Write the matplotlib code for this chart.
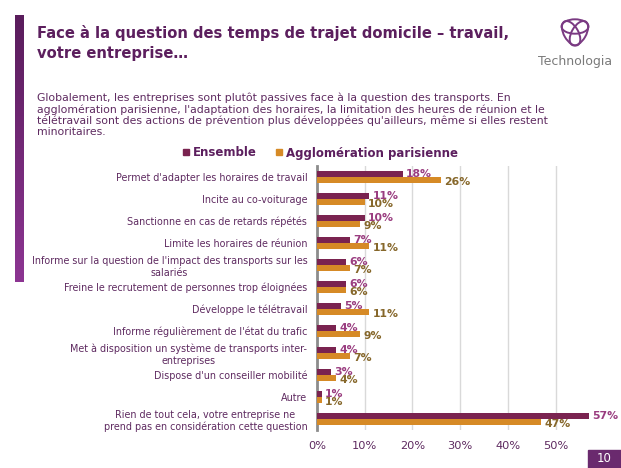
import numpy as np
import matplotlib.pyplot as plt
from matplotlib.patches import Rectangle, Ellipse
from matplotlib.lines import Line2D
from matplotlib.colors import LinearSegmentedColormap

# Data
categories = [
    "Permet d'adapter les horaires de travail",
    "Incite au co-voiturage",
    "Sanctionne en cas de retards répétés",
    "Limite les horaires de réunion",
    "Informe sur la question de l'impact des transports sur les\nsalariés",
    "Freine le recrutement de personnes trop éloignées",
    "Développe le télétravail",
    "Informe régulièrement de l'état du trafic",
    "Met à disposition un système de transports inter-\nentreprises",
    "Dispose d'un conseiller mobilité",
    "Autre",
    "Rien de tout cela, votre entreprise ne\nprend pas en considération cette question",
]
ensemble = [18, 11, 10, 7, 6, 6, 5, 4, 4, 3, 1, 57]
agglo = [26, 10, 9, 11, 7, 6, 11, 9, 7, 4, 1, 47]
xticks = [0, 10, 20, 30, 40, 50]

c_ens = '#7a2350'
c_agg = '#d68a26'
c_ens_txt = '#9a3d80'
c_agg_txt = '#86672a'
c_purple = '#5c1f5e'
c_text = '#5e2a60'

W, H = 621, 468
fig = plt.figure(figsize=(W / 100, H / 100), dpi=100)
fig.patch.set_facecolor('white')

# Left gradient band
band = fig.add_axes([15 / W, 1 - 282 / H, 9 / W, (282 - 15) / H])
grad = np.linspace(0, 1, 100).reshape(-1, 1)
cmap = LinearSegmentedColormap.from_list('b', ['#5a1d5c', '#8c3592'])
band.imshow(grad, aspect='auto', cmap=cmap)
band.axis('off')

# Title
fig.text(37 / W, 1 - 43 / H, "Face à la question des temps de trajet domicile – travail,\nvotre entreprise…",
         fontsize=10.6, fontweight='bold', color=c_purple, va='center', ha='left', linespacing=1.35)

# Body text
body = ("Globalement, les entreprises sont plutôt passives face à la question des transports. En\n"
        "agglomération parisienne, l'adaptation des horaires, la limitation des heures de réunion et le\n"
        "télétravail sont des actions de prévention plus développées qu'ailleurs, même si elles restent\n"
        "minoritaires.")
fig.text(37 / W, 1 - 115 / H, body, fontsize=7.8, color=c_text, va='center', ha='left', linespacing=1.12)

# Logo
logo = fig.add_axes([556 / W, 1 - 49 / H, 38 / W, 36 / H])
logo.set_xlim(-1, 1)
logo.set_ylim(-1, 1)
for ang in [90, 210, 330]:
    cx = 0.25 * np.cos(np.radians(ang))
    cy = 0.25 * np.sin(np.radians(ang))
    logo.add_patch(Ellipse((cx, cy), 1.5, 0.8, angle=ang + 90, fill=False, ec='#7a3a82', lw=1.4))
logo.set_aspect('equal')
logo.axis('off')
fig.text(575 / W, 1 - 62 / H, "Technologia", fontsize=9, color='#7a7a7a', ha='center', va='center')

# Chart
ax = fig.add_axes([317 / W, 1 - 430 / H, (608 - 317) / W, (430 - 166) / H])
y = np.arange(len(categories))
h = 0.27
ax.barh(y - h / 2, ensemble, height=h, color=c_ens, zorder=3)
ax.barh(y + h / 2, agglo, height=h, color=c_agg, zorder=3)
ax.set_ylim(len(categories) - 0.5, -0.5)
ax.set_xlim(0, 61)
ax.set_xticks(xticks)
ax.set_xticklabels([f"{t}%" for t in xticks], color=c_text, fontsize=8.2)
ax.set_yticks(y)
ax.set_yticklabels(categories, fontsize=6.9, color=c_text, multialignment='center')
ax.tick_params(axis='y', length=0, pad=7)
ax.tick_params(axis='x', length=0, pad=8)
ax.grid(axis='x', color='#d9d9d9', lw=1, zorder=0)
for s in ['top', 'right', 'bottom']:
    ax.spines[s].set_visible(False)
ax.spines['left'].set_color('#8c8c8c')
ax.spines['left'].set_linewidth(2)

for i in range(len(categories)):
    ax.text(ensemble[i] + 0.7, y[i] - h / 2, f"{ensemble[i]}%", color=c_ens_txt,
            fontsize=7.8, fontweight='bold', va='center', ha='left', zorder=4)
    ax.text(agglo[i] + 0.7, y[i] + h / 2 + 0.08, f"{agglo[i]}%", color=c_agg_txt,
            fontsize=7.8, fontweight='bold', va='center', ha='left', zorder=4)

# Legend
handles = [Line2D([], [], marker='s', ls='', color=c_ens, markersize=4.5),
           Line2D([], [], marker='s', ls='', color=c_agg, markersize=4.5)]
leg = fig.legend(handles, ['Ensemble', 'Agglomération parisienne'], ncol=2, frameon=False,
                 loc='center', bbox_to_anchor=(319 / W, 1 - 153 / H), handletextpad=0.05,
                 columnspacing=1.4, handlelength=1.0, prop={'weight': 'bold', 'size': 8.5})
for t in leg.get_texts():
    t.set_color(c_purple)

# Page number
fig.patches.append(Rectangle((588 / W, 0), 33 / W, 18 / H, transform=fig.transFigure,
                             color='#6a2a6e', zorder=5))
fig.text(604 / W, 9 / H, "10", color='white', fontsize=8.5, ha='center', va='center', zorder=6)

fig.savefig('out.png', dpi=100)
